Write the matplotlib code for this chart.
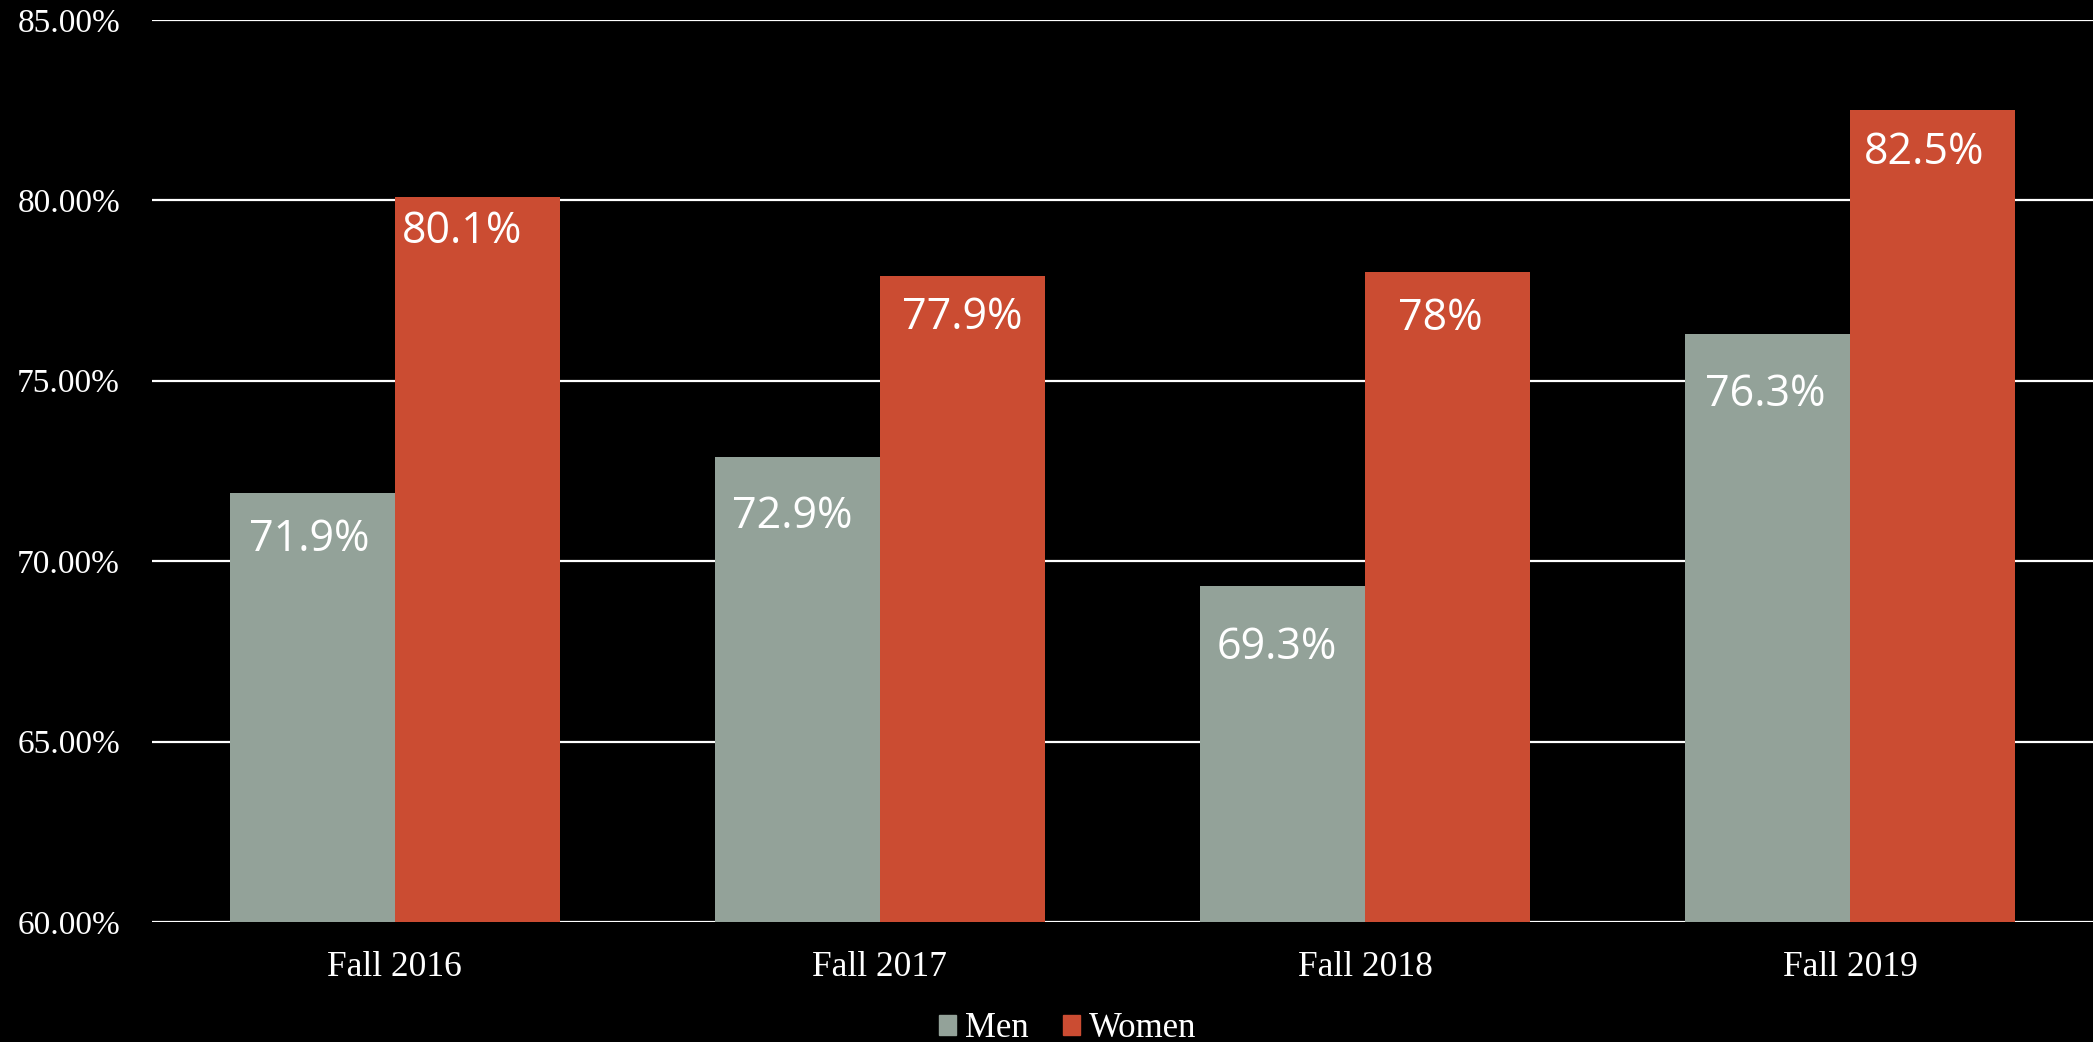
import numpy as np
import matplotlib.pyplot as plt
from matplotlib.patches import Patch

# data
terms = ["Fall 2016", "Fall 2017", "Fall 2018", "Fall 2019"]
men = [71.9, 72.9, 69.3, 76.3]
women = [80.1, 77.9, 78.0, 82.5]
men_labels = ["71.9%", "72.9%", "69.3%", "76.3%"]
women_labels = ["80.1%", "77.9%", "78%", "82.5%"]
y_ticks = [60, 65, 70, 75, 80, 85]

# label nudges (points) to mimic the original placement
men_offsets = [(-2, -18), (-4, -27), (-4, -28), (-2, -28)]
women_offsets = [(-11, -9), (0, -14), (-5, -17), (-6, -15)]

men_color = "#93A299"
women_color = "#CB4C32"
serif = "Liberation Serif"

fig = plt.figure(figsize=(20.93, 10.42), dpi=100, facecolor="black")
ax = fig.add_axes([0.0726, 0.115, 0.9274, 0.866])
ax.set_facecolor("black")

x = np.arange(len(terms))
w = 0.34
b1 = ax.bar(x - w/2, men, w, color=men_color, zorder=3)
b2 = ax.bar(x + w/2, women, w, color=women_color, zorder=3)

# value labels inside top of bars
for bars, labs, offs in [(b1, men_labels, men_offsets), (b2, women_labels, women_offsets)]:
    for rect, lab, off in zip(bars, labs, offs):
        ax.annotate(lab, (rect.get_x() + rect.get_width()/2, rect.get_height()),
                    xytext=off, textcoords="offset points",
                    ha="center", va="top", color="white",
                    fontsize=31, family="Open Sans", zorder=4)

ax.set_ylim(60, 85)
ax.set_xlim(-0.5, 3.5)
ax.set_yticks(y_ticks)
ax.set_yticklabels(["%.2f%%" % v for v in y_ticks])
ax.set_xticks(x)
ax.set_xticklabels(terms)
for lab in ax.get_yticklabels():
    lab.set_family(serif)
    lab.set_fontsize(24)
    lab.set_color("white")
for lab in ax.get_xticklabels():
    lab.set_family(serif)
    lab.set_fontsize(25.5)
    lab.set_color("white")
ax.tick_params(axis="both", length=0)
ax.tick_params(axis="y", pad=23)
ax.tick_params(axis="x", pad=21)

ax.grid(axis="y", color="white", linewidth=1.6, zorder=1)
for s in ax.spines.values():
    s.set_visible(False)

handles = [Patch(color=men_color, label="Men"), Patch(color=women_color, label="Women")]
leg = fig.legend(handles=handles, loc="lower center", bbox_to_anchor=(0.51, -0.033),
                 ncol=2, frameon=False, handlelength=0.5, handleheight=0.5,
                 handletextpad=0.25, columnspacing=1.0,
                 prop={"family": serif, "size": 25})
for t in leg.get_texts():
    t.set_color("white")

fig.savefig("out.png", dpi=100, facecolor="black")
